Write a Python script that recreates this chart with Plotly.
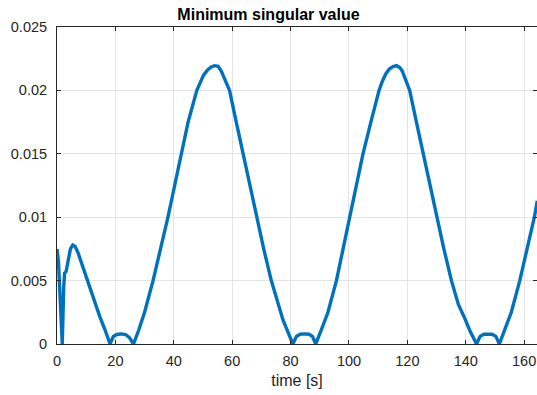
import plotly.graph_objects as go

time_s = [0.0, 0.5, 1.0, 1.8, 2.3, 2.6, 3.1, 3.8, 4.6, 5.4, 6.2, 7.2, 8.8, 10.5, 12.3, 14.0, 14.6, 16.3, 18.2,
          19.3, 20.5, 22.0, 23.5, 24.8, 26.2,
          28.0, 30.0, 32.9, 35.5, 38.0, 40.3, 42.6, 44.9, 47.9, 49.0, 50.2, 51.5, 52.8, 54.0, 55.2, 56.3, 57.3,
          59.1, 61.4, 63.7, 66.0, 68.3, 70.8, 73.4, 75.5, 77.4, 79.0, 80.8,
          82.0, 83.3, 84.8, 86.3, 87.5, 88.6,
          90.5, 92.8, 95.7, 98.0, 100.3, 102.5, 104.8, 107.5, 110.3, 111.4, 112.6, 113.9, 115.1, 116.3, 117.4,
          118.3, 119.4, 120.8, 123.1, 125.4, 127.7, 130.0, 132.5, 135.1, 137.5, 139.7, 141.5, 143.7,
          144.9, 146.2, 147.6, 149.0, 150.3, 151.5,
          153.3, 155.6, 158.5, 161.0, 163.5, 164.5]

min_sv = [0.0075, 0.0065, 0.0040, 0.0, 0.0045, 0.0056, 0.0057, 0.0066, 0.0075, 0.0078, 0.0077, 0.0072, 0.0061,
          0.0049, 0.0037, 0.0025, 0.0022, 0.0012, 0.0,
          0.0006, 0.00075, 0.0008, 0.00075, 0.0005, 0.0,
          0.0011, 0.0025, 0.0050, 0.0075, 0.0100, 0.0125, 0.0150, 0.0175, 0.0200, 0.0206, 0.0212, 0.0216,
          0.02185, 0.02195, 0.0219, 0.0215, 0.0210,
          0.0200, 0.0175, 0.0150, 0.0125, 0.0100, 0.0075, 0.0050, 0.0033, 0.0019, 0.0010, 0.0,
          0.0006, 0.00077, 0.0008, 0.00077, 0.0006, 0.0,
          0.0011, 0.0025, 0.0050, 0.0075, 0.0100, 0.0125, 0.0150, 0.0175, 0.0200, 0.0207, 0.0213, 0.0217,
          0.02188, 0.02195, 0.0218,
          0.0215, 0.0209, 0.0200, 0.0175, 0.0150, 0.0125, 0.0100, 0.0075, 0.0050, 0.0031, 0.0020, 0.0010, 0.0,
          0.0006, 0.00077, 0.0008, 0.00077, 0.0006, 0.0,
          0.0011, 0.0025, 0.0050, 0.0075, 0.0100, 0.0113]

x_ticks = [0, 20, 40, 60, 80, 100, 120, 140, 160]
y_ticks = [0, 0.005, 0.01, 0.015, 0.02, 0.025]
y_tick_labels = ["0", "0.005", "0.01", "0.015", "0.02", "0.025"]

FONT = "Liberation Sans, Arial, sans-serif"

fig = go.Figure()
fig.add_trace(go.Scatter(x=time_s, y=min_sv, mode="lines",
                         line=dict(color="#0072BD", width=3.4), showlegend=False))

axis_common = dict(showline=True, linecolor="#262626", linewidth=1, mirror="ticks",
                   ticks="inside", ticklen=4, tickcolor="#262626",
                   showgrid=True, gridcolor="#e3e3e3", gridwidth=1, zeroline=False,
                   tickfont=dict(family=FONT, size=14.5, color="#262626"))

fig.update_layout(
    width=537, height=395,
    margin=dict(l=57, r=0, t=27, b=51),
    paper_bgcolor="white", plot_bgcolor="white",
    title=dict(text="<b>Minimum singular value</b>", x=0.5, xanchor="center", y=1 - 14 / 395,
               yanchor="middle", font=dict(family=FONT, size=16, color="black")),
    xaxis=dict(range=[0, 164.4], tickvals=x_ticks, ticklabelstandoff=4,
               title=dict(text="time [s]", standoff=6, font=dict(family=FONT, size=16, color="#262626")),
               **axis_common),
    yaxis=dict(range=[0, 0.025], tickvals=y_ticks, ticktext=y_tick_labels, ticklabelstandoff=6,
               **axis_common),
)

fig.write_html("out.html")
